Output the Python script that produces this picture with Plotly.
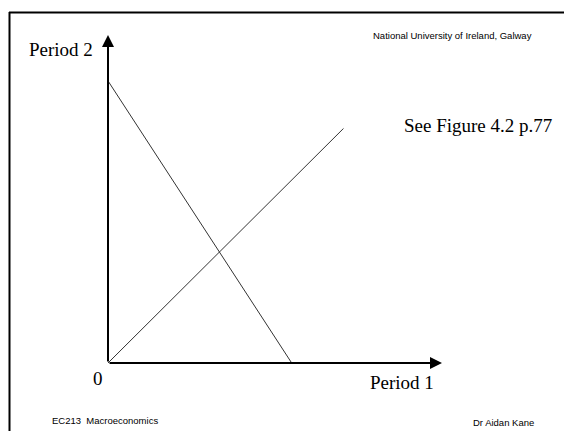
import plotly.graph_objects as go

# The page places the figure 8px in from the top-left corner (default body margin)
OFF = 8
W, H = 572 - OFF, 431 - OFF

# Data (economic units on a 0-10 scale for both periods)
budget_x = [0.0, 5.5]
budget_y = [8.6, 0.0]
diag_x = [0.0, 7.05]
diag_y = [0.0, 7.15]
axis_max_x = 10.0
axis_max_y = 10.0

# Plot area in page pixels (origin and arrow tips)
x0_px, x1_px = 108, 442
y0_px, y1_px = 363, 35

def px(x):
    return (x - OFF) / W

def py(y):
    return 1 - (y - OFF) / H

fig = go.Figure()
fig.add_trace(go.Scatter(x=budget_x, y=budget_y, mode="lines",
                         line=dict(color="#333333", width=1), hoverinfo="skip"))
fig.add_trace(go.Scatter(x=diag_x, y=diag_y, mode="lines",
                         line=dict(color="#333333", width=1), hoverinfo="skip"))

annotations = []
# axis arrows
annotations.append(dict(x=axis_max_x, y=0, ax=0, ay=0, xref="x", yref="y",
                        axref="x", ayref="y", text="", showarrow=True,
                        arrowhead=2, arrowwidth=2, arrowsize=1.2, arrowcolor="black"))
annotations.append(dict(x=0, y=axis_max_y, ax=0, ay=0, xref="x", yref="y",
                        axref="x", ayref="y", text="", showarrow=True,
                        arrowhead=2, arrowwidth=2, arrowsize=1.2, arrowcolor="black"))

serif = "Liberation Serif, Times New Roman, serif"
sans = "Liberation Sans, Arial, sans-serif"

def txt(s, x, y, size, family, xanchor="center"):
    annotations.append(dict(text=s, x=px(x), y=py(y), xref="paper", yref="paper",
                            showarrow=False, xanchor=xanchor, yanchor="middle",
                            font=dict(family=family, size=size, color="black")))

txt("Period 2", 27, 49, 19, serif, "left")
txt("0", 98, 378, 19, serif)
txt("Period 1", 368, 382, 19, serif, "left")
txt("See Figure 4.2 p.77", 402, 125, 19, serif, "left")
txt("National University of Ireland, Galway", 371, 36, 9.5, sans, "left")
txt("EC213  Macroeconomics", 50, 420, 9.5, sans, "left")
txt("Dr Aidan Kane", 471, 422, 9.5, sans, "left")

shapes = [
    dict(type="line", xref="paper", yref="paper", x0=px(9), x1=1, y0=py(12.5), y1=py(12.5),
         line=dict(color="black", width=2)),
    dict(type="line", xref="paper", yref="paper", x0=px(9.5), x1=px(9.5), y0=py(12), y1=0,
         line=dict(color="black", width=2)),
]

fig.update_layout(
    width=W, height=H,
    margin=dict(l=0, r=0, t=0, b=0),
    paper_bgcolor="white", plot_bgcolor="white",
    showlegend=False,
    xaxis=dict(domain=[px(x0_px), px(x1_px)], range=[0, axis_max_x], visible=False,
               fixedrange=True),
    yaxis=dict(domain=[py(y0_px), py(y1_px)], range=[0, axis_max_y], visible=False,
               fixedrange=True),
    annotations=annotations,
    shapes=shapes,
)

fig.write_html("out.html", config={"displayModeBar": False})
